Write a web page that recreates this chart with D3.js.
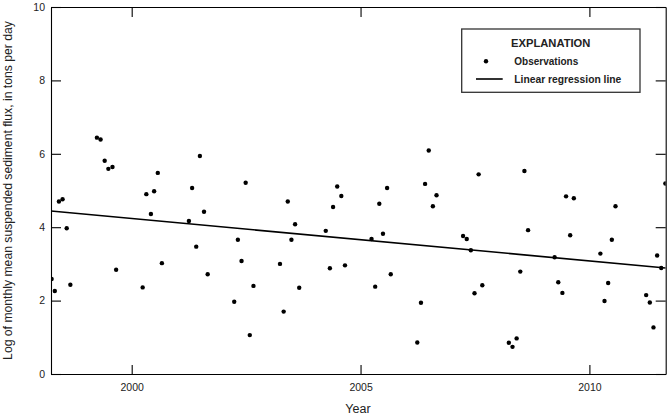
<!DOCTYPE html>
<html>
<head>
<meta charset="utf-8">
<script src="https://cdn.jsdelivr.net/npm/d3@7"></script>
<style>
  body { margin: 0; background: #fff; }
  svg { display: block; font-family: "Liberation Sans", Arial, sans-serif; }
</style>
</head>
<body>
<div id="chart"></div>
<script>
// Observations: decimal year and log of monthly mean flux
var obsYears = [
  1998.25, 1998.32, 1998.41, 1998.49, 1998.58, 1998.66,
  1999.24, 1999.32, 1999.41, 1999.49, 1999.58, 1999.66,
  2000.24, 2000.32, 2000.42, 2000.49, 2000.57, 2000.66,
  2001.25, 2001.32, 2001.41, 2001.49, 2001.58, 2001.66,
  2002.24, 2002.32, 2002.40, 2002.49, 2002.58, 2002.66,
  2003.24, 2003.32, 2003.41, 2003.49, 2003.57, 2003.66,
  2004.24, 2004.33, 2004.40, 2004.49, 2004.58, 2004.66,
  2005.24, 2005.32, 2005.41, 2005.49, 2005.58, 2005.66,
  2006.24, 2006.32, 2006.41, 2006.49, 2006.58, 2006.66,
  2007.24, 2007.32, 2007.41, 2007.49, 2007.58, 2007.66,
  2008.24, 2008.32, 2008.41, 2008.49, 2008.58, 2008.66,
  2009.24, 2009.32, 2009.41, 2009.49, 2009.58, 2009.66,
  2010.24, 2010.33, 2010.41, 2010.49, 2010.57,
  2011.24, 2011.32, 2011.40, 2011.48, 2011.57, 2011.66
];
var obsValues = [
  2.59, 2.26, 4.70, 4.76, 3.97, 2.43,
  6.44, 6.39, 5.81, 5.59, 5.64, 2.84,
  2.36, 4.90, 4.36, 4.98, 5.48, 3.02,
  4.17, 5.07, 3.47, 5.94, 4.42, 2.72,
  1.97, 3.66, 3.08, 5.21, 1.06, 2.40,
  3.00, 1.70, 4.70, 3.66, 4.08, 2.35,
  3.90, 2.88, 4.55, 5.11, 4.85, 2.96,
  3.68, 2.38, 4.64, 3.82, 5.07, 2.72,
  0.86, 1.94, 5.18, 6.09, 4.57, 4.87,
  3.76, 3.68, 3.37, 2.20, 5.44, 2.42,
  0.85, 0.74, 0.97, 2.79, 5.53, 3.92,
  3.18, 2.50, 2.21, 4.84, 3.78, 4.79,
  3.28, 1.99, 2.48, 3.66, 4.57,
  2.15, 1.95, 1.27, 3.23, 2.89, 5.19
];

// regression line end points
var fitYears = [1998.237, 2011.667];
var fitValues = [4.44, 2.89];

var xTicks = [2000, 2005, 2010];
var yTicks = [0, 2, 4, 6, 8, 10];

var svgWidth = 667;
var svgHeight = 417;

// plot box in pixels
var margin = { top: 7, right: 1.3, bottom: 43, left: 51 };
var width = svgWidth - margin.left - margin.right;
var height = svgHeight - margin.top - margin.bottom;

var svg = d3.select("#chart").append("svg")
  .attr("width", svgWidth)
  .attr("height", svgHeight);

var chartGroup = svg.append("g")
  .attr("transform", `translate(${margin.left}, ${margin.top})`);

var xScale = d3.scaleLinear()
  .domain(fitYears)
  .range([0, width]);

var yScale = d3.scaleLinear()
  .domain([0, 10])
  .range([height, 0]);

svg.append("defs").append("clipPath")
  .attr("id", "plotclip")
  .append("rect")
  .attr("width", width)
  .attr("height", height);

// axes, ticks pointing inward
var bottomAxis = d3.axisBottom(xScale)
  .tickValues(xTicks)
  .tickSizeInner(-9)
  .tickSizeOuter(0)
  .tickPadding(10)
  .tickFormat(d3.format("d"));
var topAxis = d3.axisTop(xScale)
  .tickValues(xTicks)
  .tickSizeInner(-10)
  .tickSizeOuter(0)
  .tickFormat("");
var leftAxis = d3.axisLeft(yScale)
  .tickValues(yTicks)
  .tickSizeInner(-10)
  .tickSizeOuter(0)
  .tickPadding(6);
var rightAxis = d3.axisRight(yScale)
  .tickValues(yTicks)
  .tickSizeInner(-10)
  .tickSizeOuter(0)
  .tickFormat("");

function styleAxis(g) {
  g.selectAll("path, line").attr("stroke", "#000").attr("stroke-width", 1.1);
  g.selectAll("text")
    .attr("fill", "#222")
    .style("font-size", "10.5px");
}

chartGroup.append("g")
  .attr("transform", `translate(0, ${height})`)
  .call(bottomAxis)
  .call(styleAxis);
chartGroup.append("g")
  .call(topAxis)
  .call(styleAxis);
chartGroup.append("g")
  .call(leftAxis)
  .call(styleAxis);
chartGroup.append("g")
  .attr("transform", `translate(${width}, 0)`)
  .call(rightAxis)
  .call(styleAxis);

// regression line
var fitData = fitYears.map((d, i) => ({ x: d, y: fitValues[i] }));
chartGroup.append("path")
  .datum(fitData)
  .attr("clip-path", "url(#plotclip)")
  .attr("fill", "none")
  .attr("stroke", "#000")
  .attr("stroke-width", 1.6)
  .attr("d", d3.line().x(d => xScale(d.x)).y(d => yScale(d.y)));

// observations
var obsData = obsYears.map((d, i) => ({ x: d, y: obsValues[i] }));
chartGroup.append("g")
  .attr("clip-path", "url(#plotclip)")
  .selectAll("circle")
  .data(obsData)
  .enter()
  .append("circle")
  .attr("cx", d => xScale(d.x))
  .attr("cy", d => yScale(d.y))
  .attr("r", 2.2)
  .attr("fill", "#000");

// axis titles
svg.append("text")
  .attr("transform", `translate(11.5, ${190.5}) rotate(-90)`)
  .attr("text-anchor", "middle")
  .style("font-size", "12.2px")
  .attr("fill", "#222")
  .text("Log of monthly mean suspended sediment flux, in tons per day");

svg.append("text")
  .attr("x", 358)
  .attr("y", 412.5)
  .attr("text-anchor", "middle")
  .style("font-size", "12.5px")
  .attr("fill", "#222")
  .text("Year");

// explanation box
var legend = svg.append("g");
legend.append("rect")
  .attr("x", 461.7)
  .attr("y", 29)
  .attr("width", 178.3)
  .attr("height", 63.3)
  .attr("fill", "#fff")
  .attr("stroke", "#333")
  .attr("stroke-width", 1.3);
legend.append("text")
  .attr("x", 550.7)
  .attr("y", 47.3)
  .attr("text-anchor", "middle")
  .style("font-size", "11.2px")
  .style("font-weight", "bold")
  .attr("fill", "#222")
  .text("EXPLANATION");
legend.append("circle")
  .attr("cx", 486)
  .attr("cy", 61.3)
  .attr("r", 2.2)
  .attr("fill", "#000");
legend.append("text")
  .attr("x", 514.3)
  .attr("y", 64.7)
  .style("font-size", "10px")
  .style("font-weight", "bold")
  .attr("fill", "#222")
  .text("Observations");
legend.append("line")
  .attr("x1", 476)
  .attr("x2", 502.7)
  .attr("y1", 79)
  .attr("y2", 79)
  .attr("stroke", "#000")
  .attr("stroke-width", 1.6);
legend.append("text")
  .attr("x", 514.3)
  .attr("y", 83)
  .style("font-size", "10.3px")
  .style("font-weight", "bold")
  .attr("fill", "#222")
  .text("Linear regression line");
</script>
</body>
</html>
